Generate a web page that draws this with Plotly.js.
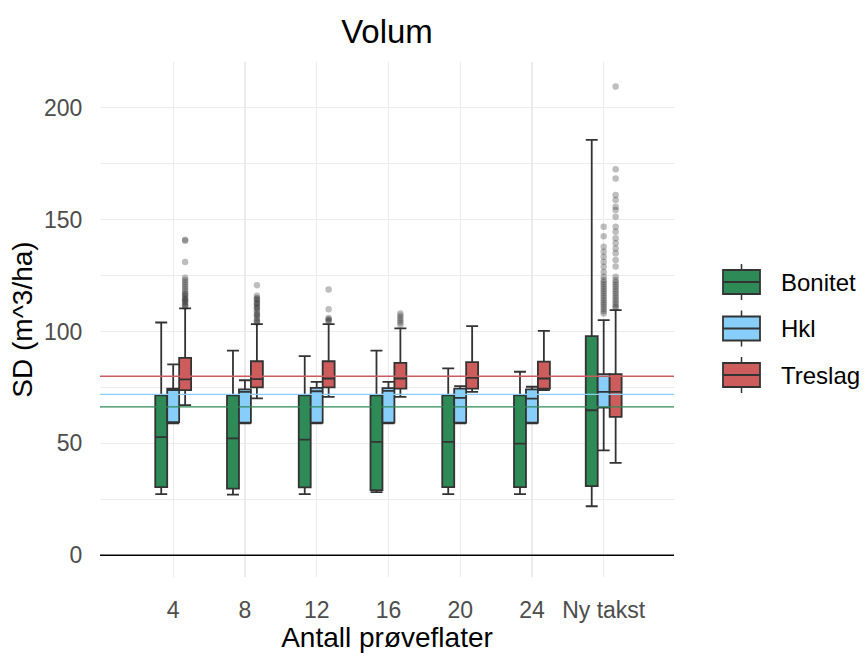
<!DOCTYPE html>
<html>
<head>
<meta charset="utf-8">
<script src="https://cdn.plot.ly/plotly-3.0.1.min.js"></script>
<style>html,body{margin:0;padding:0;background:#fff;}#chart{width:864px;height:653px;}</style>
</head>
<body>
<div id="chart"></div>
<script>
// ---- Data ----
const categories = ['4', '8', '12', '16', '20', '24', 'Ny takst'];
const seriesNames = ['Bonitet', 'Hkl', 'Treslag'];

const bonitetLower  = [27.3, 27.1, 27.3, 28.2, 27.3, 27.3, 21.9];
const bonitetQ1     = [30.5, 29.8, 30.3, 29.1, 30.5, 30.5, 30.9];
const bonitetMedian = [52.8, 52.2, 51.7, 50.7, 50.7, 49.9, 64.8];
const bonitetQ3     = [71.5, 71.5, 71.5, 71.5, 71.5, 71.5, 97.9];
const bonitetUpper  = [104.0, 91.4, 89.0, 91.4, 83.5, 82.0, 185.6];

const hklLower  = [59.0, 59.0, 59.0, 59.0, 59.0, 59.0, 46.9];
const hklQ1     = [59.5, 59.3, 59.3, 59.3, 59.3, 59.3, 66.0];
const hklMedian = [73.8, 73.0, 73.3, 73.5, 70.3, 70.0, 73.0];
const hklQ3     = [74.5, 74.1, 74.8, 74.7, 74.5, 74.1, 80.9];
const hklUpper  = [85.3, 78.2, 77.5, 77.5, 75.6, 75.3, 105.1];

const treslagLower  = [67.1, 70.1, 70.8, 70.8, 73.0, 73.8, 41.3];
const treslagQ1     = [73.8, 75.0, 75.0, 74.5, 74.5, 74.5, 61.8];
const treslagMedian = [78.6, 78.7, 79.0, 79.0, 79.3, 79.0, 73.0];
const treslagQ3     = [88.2, 86.7, 86.7, 86.0, 86.3, 86.5, 80.9];
const treslagUpper  = [110.3, 103.3, 103.3, 101.4, 102.4, 100.3, 109.5];

// outliers per category
const bonitetOutliers = [[], [], [], [], [], [], []];
const hklOutliers = [[], [], [], [], [], [],
  [146.8, 142.6, 137.9, 135.6, 133.4, 131.1, 128.9, 126.6, 124.4, 123, 122, 121, 120, 119, 118, 117, 116, 115, 114, 113, 112, 111, 110, 109, 108]];
const treslagOutliers = [
  [141, 140.5, 131, 124, 123, 122, 121, 120, 119, 118, 117, 116.5, 116, 115, 114.5, 114, 113.5, 113, 112, 111.5, 111],
  [120.7, 116, 115, 114.5, 114, 113, 112.5, 112, 111, 110.5, 110, 109, 108, 107.5, 107, 106, 105, 104.5, 104],
  [118.8, 109.9, 106, 105.5, 105, 104.5],
  [108, 107, 106, 105, 104, 103],
  [], [],
  [209.5, 172.5, 168.4, 161, 158.7, 155.7, 154.3, 151.3, 146.8, 144.6, 141.6, 139.4, 137.1, 134.9, 131.9, 129,
   124.5, 123, 122, 121, 120, 119, 118, 117, 116, 115, 114, 113, 112, 111, 110.5]
];

// horizontal reference lines (Bonitet, Hkl, Treslag)
const refLines = [66.3, 71.9, 80.0];

// ---- Styling ----
const fills = ['#2E8B57', '#87CEFA', '#CD5C5C'];
const lineCol = '#333333';
const dodge = [-1/6, 0, 1/6];
const boxW = 1/6;
const font = 'Liberation Sans, Arial, sans-serif';

const stats = [
  [bonitetLower, bonitetQ1, bonitetMedian, bonitetQ3, bonitetUpper, bonitetOutliers],
  [hklLower, hklQ1, hklMedian, hklQ3, hklUpper, hklOutliers],
  [treslagLower, treslagQ1, treslagMedian, treslagQ3, treslagUpper, treslagOutliers]
];

const traces = [];
const outlierTraces = [];
stats.forEach((s, k) => {
  const xs = categories.map((c, i) => i + dodge[k]);
  traces.push({
    type: 'box',
    name: seriesNames[k],
    showlegend: false,
    x: xs,
    lowerfence: s[0], q1: s[1], median: s[2], q3: s[3], upperfence: s[4],
    width: boxW,
    whiskerwidth: 1,
    fillcolor: fills[k],
    line: {color: lineCol, width: 1.8},
    boxpoints: false,
    hoverinfo: 'skip'
  });
  const ox = [], oy = [];
  s[5].forEach((arr, i) => arr.forEach(v => { ox.push(i + dodge[k]); oy.push(v); }));
  outlierTraces.push({
    type: 'scatter', mode: 'markers', x: ox, y: oy, showlegend: false,
    marker: {size: 6.5, color: 'rgba(40,40,40,0.3)', line: {width: 0}},
    hoverinfo: 'skip'
  });
});

const shapes = [{
  type: 'line', xref: 'paper', x0: 0, x1: 1, yref: 'y', y0: 0, y1: 0,
  line: {color: '#000000', width: 1.6}, layer: 'above'
}];
refLines.forEach((v, k) => shapes.push({
  type: 'line', xref: 'paper', x0: 0, x1: 1, yref: 'y', y0: v, y1: v,
  line: {color: fills[k], width: 1.4}, layer: 'above'
}));

// ---- Custom legend keys (ggplot-style box glyphs) ----
const plotL = 100, plotW = 574, plotT = 62, plotH = 515;
const px = x => (x - plotL) / plotW;
const py = y => (plotT + plotH - y) / plotH;
const legendCentersPx = [282, 328.5, 375];
const annotations = [];
seriesNames.forEach((n, k) => {
  const cy = legendCentersPx[k];
  const x0 = 723, x1 = 760, xm = (x0 + x1) / 2;
  shapes.push({type: 'line', xref: 'paper', yref: 'paper', x0: px(xm), x1: px(xm), y0: py(cy - 18), y1: py(cy + 18),
               line: {color: lineCol, width: 1.5}});
  shapes.push({type: 'rect', xref: 'paper', yref: 'paper', x0: px(x0), x1: px(x1), y0: py(cy - 12), y1: py(cy + 12),
               fillcolor: fills[k], line: {color: lineCol, width: 1.8}});
  shapes.push({type: 'line', xref: 'paper', yref: 'paper', x0: px(x0), x1: px(x1), y0: py(cy), y1: py(cy),
               line: {color: lineCol, width: 2}});
  annotations.push({xref: 'paper', yref: 'paper', x: px(779), y: py(cy), xanchor: 'left', yanchor: 'middle',
                    text: n, showarrow: false, font: {size: 24, color: '#000000', family: font}});
});

const layout = {
  width: 864, height: 653,
  margin: {l: 100, r: 190, t: 62, b: 76},
  paper_bgcolor: '#ffffff', plot_bgcolor: '#ffffff',
  font: {family: font, color: '#4d4d4d'},
  title: {text: 'Volum', font: {size: 33, color: '#000000', family: font},
          x: 0.5, xref: 'paper', y: 0.952, yref: 'container', yanchor: 'middle'},
  boxmode: 'overlay',
  showlegend: false,
  xaxis: {
    range: [-1.02, 6.98], tickmode: 'array',
    tickvals: categories.map((c, i) => i), ticktext: categories,
    showgrid: true, gridcolor: '#ebebeb', gridwidth: 1.3, zeroline: false, showline: false,
    ticks: 'outside', ticklen: 12, tickcolor: 'rgba(0,0,0,0)',
    tickfont: {size: 23, color: '#4d4d4d'},
    title: {text: 'Antall prøveflater', font: {size: 28, color: '#000000'}, standoff: 4}
  },
  yaxis: {
    range: [-9.7, 220.4], tickmode: 'linear', tick0: 0, dtick: 50,
    showgrid: true, gridcolor: '#ebebeb', gridwidth: 1.3, zeroline: false, showline: false,
    minor: {dtick: 25, showgrid: true, gridcolor: '#ebebeb', gridwidth: 1},
    ticks: 'outside', ticklen: 12, tickcolor: 'rgba(0,0,0,0)',
    tickfont: {size: 23, color: '#4d4d4d'},
    title: {text: 'SD (m^3/ha)', font: {size: 28, color: '#000000'}, standoff: 3}
  },
  shapes: shapes,
  annotations: annotations
};

Plotly.newPlot('chart', traces.concat(outlierTraces), layout, {displayModeBar: false, staticPlot: true});
</script>
</body>
</html>
